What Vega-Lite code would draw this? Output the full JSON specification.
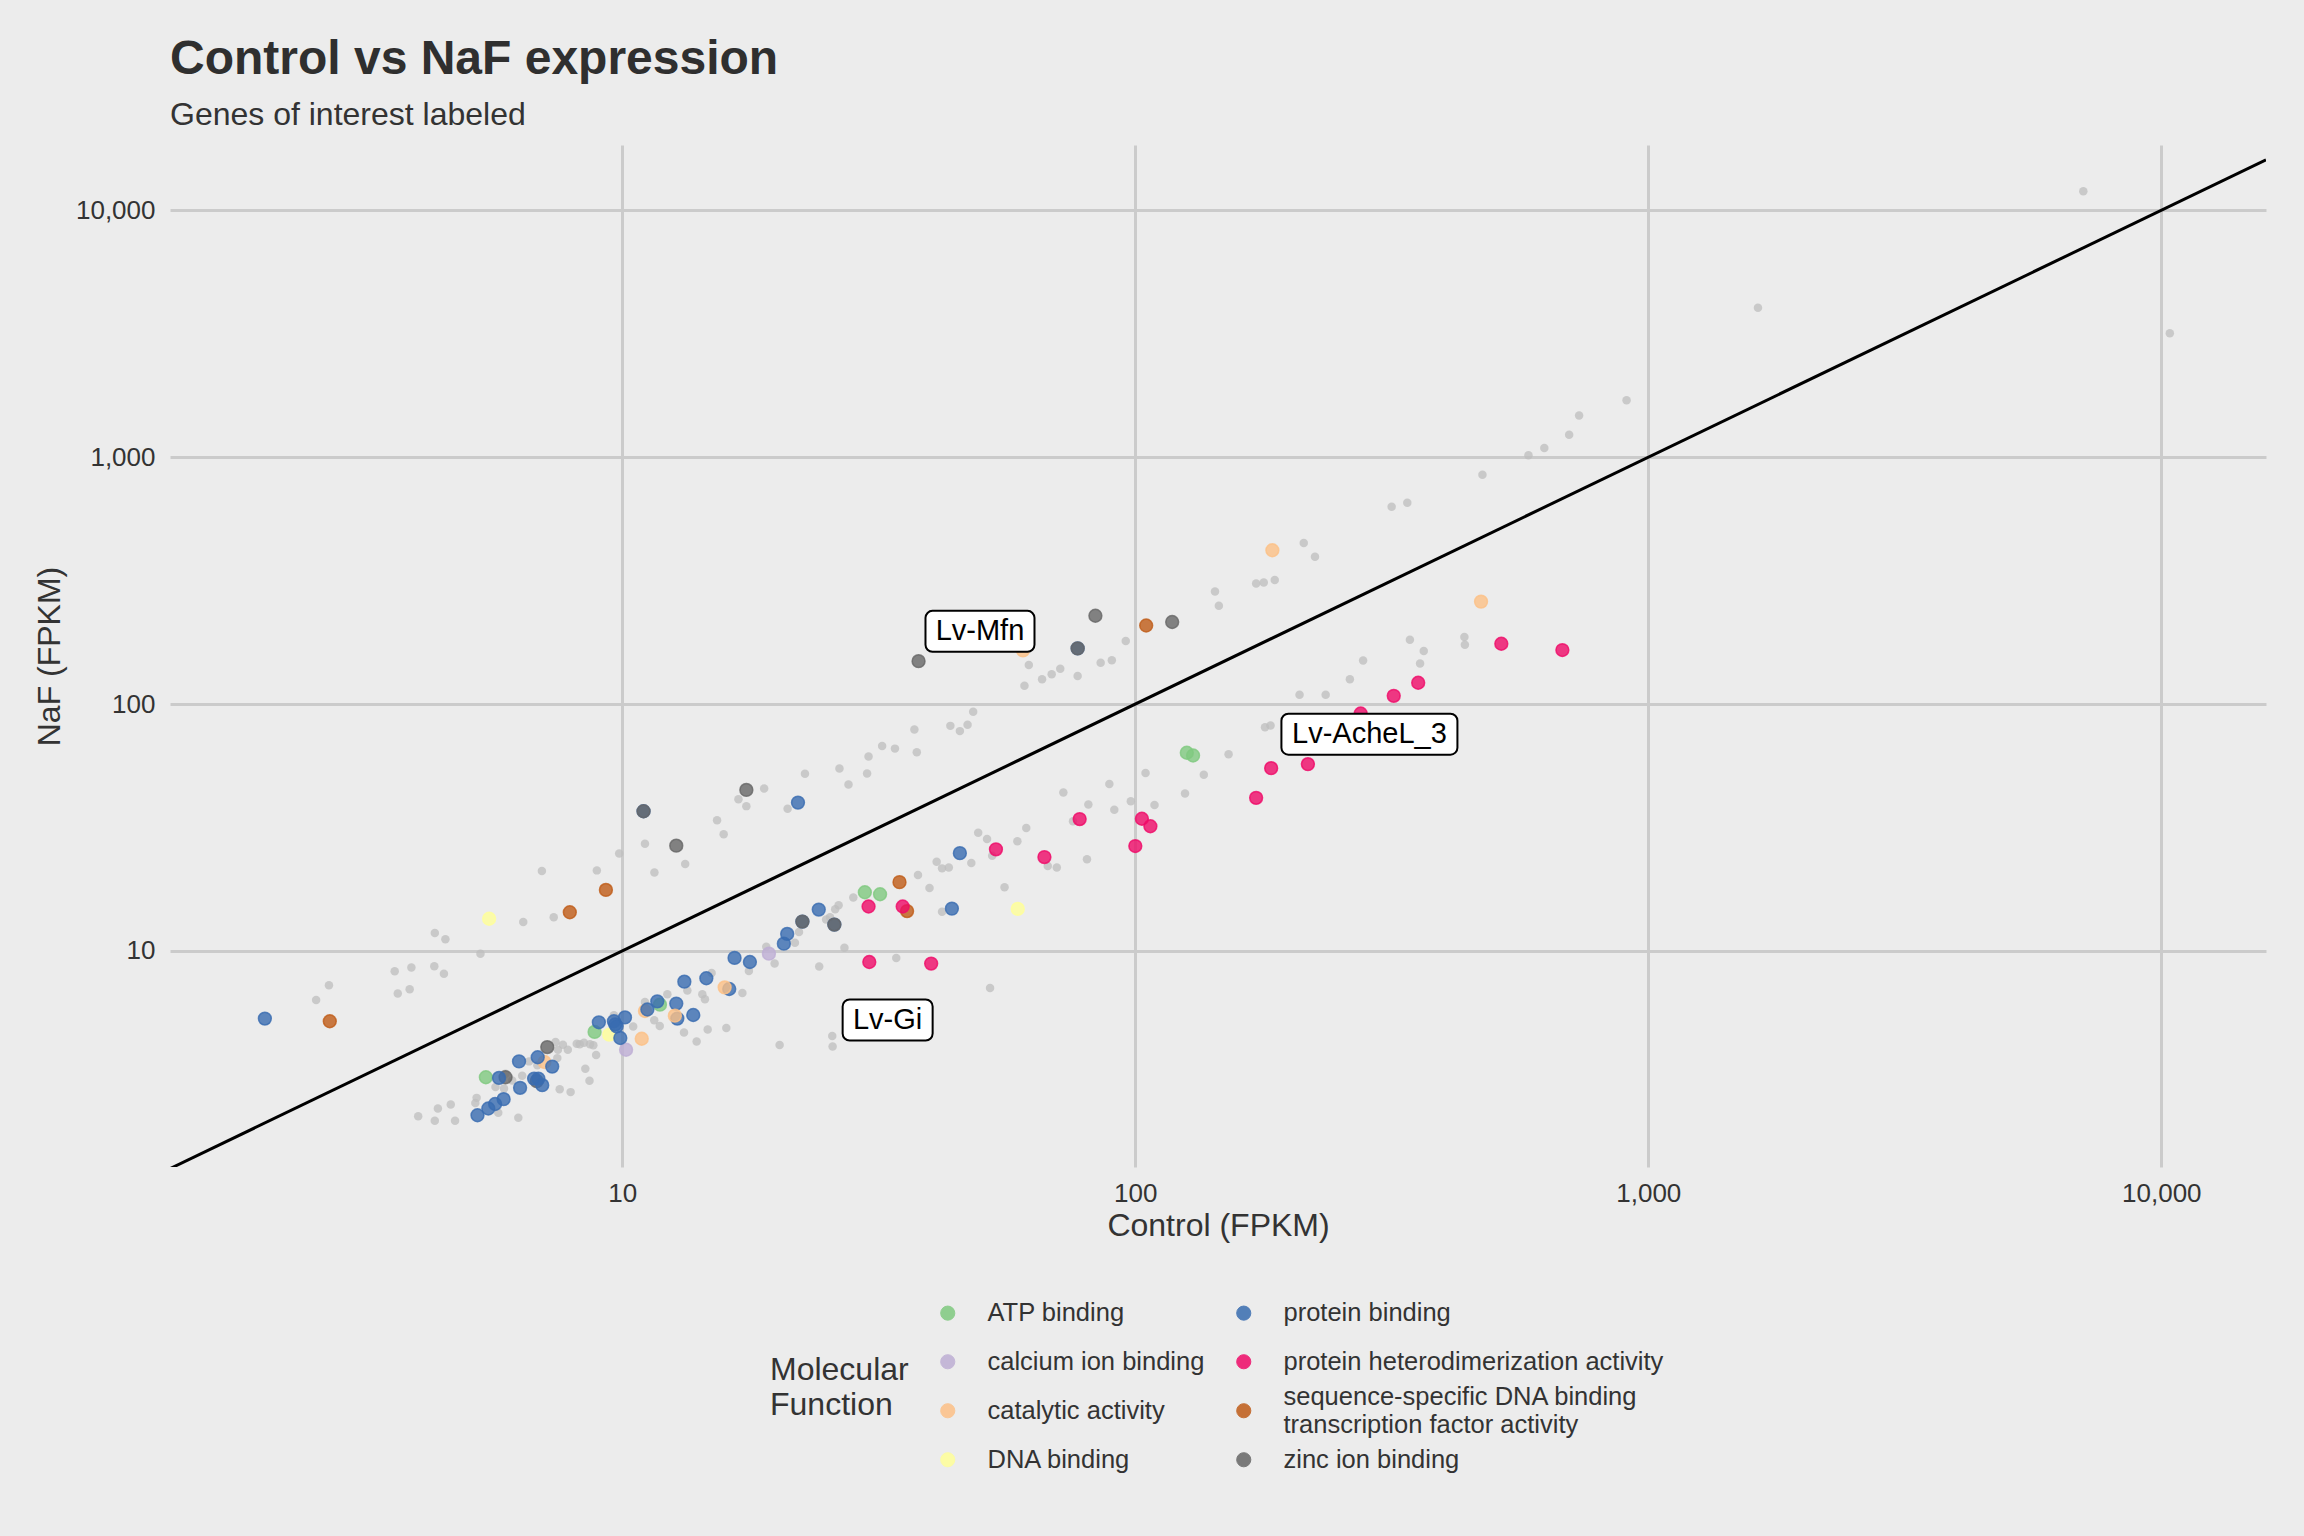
{
  "$schema": "https://vega.github.io/schema/vega-lite/v6.json",
  "width": 2096,
  "height": 1022,
  "autosize": "none",
  "padding": {"left": 170, "top": 145, "right": 38, "bottom": 369},
  "background": "#ECECEC",
  "title": {
    "text": "Control vs NaF expression",
    "subtitle": "Genes of interest labeled",
    "anchor": "start",
    "frame": "group",
    "offset": 14,
    "font": "Liberation Sans",
    "fontSize": 48,
    "fontWeight": "bold",
    "color": "#2F2F2F",
    "subtitleFont": "Liberation Sans",
    "subtitleFontSize": 32,
    "subtitleColor": "#333333",
    "subtitlePadding": 16
  },
  "config": {
    "view": {"stroke": null},
    "font": "Liberation Sans",
    "style": {
      "guide-label": {"lineHeight": 14, "dy": -14},
      "guide-title": {"dy": -6}
    },
    "axis": {
      "domain": false,
      "ticks": false,
      "grid": true,
      "gridColor": "#CBCBCB",
      "gridWidth": 3,
      "labelFont": "Liberation Sans",
      "labelFontSize": 26,
      "labelColor": "#333333",
      "titleFont": "Liberation Sans",
      "titleFontSize": 32,
      "titleFontWeight": "normal",
      "titleColor": "#333333"
    }
  },
  "datasets": {
    "genes": [
      {"Control": 4.52, "NaF": 11.15},
      {"Control": 5.29, "NaF": 9.75},
      {"Control": 4.49, "NaF": 8.09},
      {"Control": 4.37, "NaF": 2.3},
      {"Control": 4.63, "NaF": 2.39},
      {"Control": 4.72, "NaF": 2.05},
      {"Control": 5.17, "NaF": 2.42},
      {"Control": 5.2, "NaF": 2.54},
      {"Control": 5.73, "NaF": 2.21},
      {"Control": 6.27, "NaF": 2.11},
      {"Control": 5.66, "NaF": 2.81},
      {"Control": 5.88, "NaF": 2.77},
      {"Control": 6.38, "NaF": 3.12},
      {"Control": 6.1, "NaF": 2.99},
      {"Control": 5.92, "NaF": 3.18},
      {"Control": 6.58, "NaF": 3.57},
      {"Control": 6.83, "NaF": 3.44},
      {"Control": 7.47, "NaF": 3.68},
      {"Control": 7.49, "NaF": 3.98},
      {"Control": 7.41, "NaF": 4.28},
      {"Control": 7.66, "NaF": 4.17},
      {"Control": 7.83, "NaF": 3.98},
      {"Control": 8.15, "NaF": 4.21},
      {"Control": 8.26, "NaF": 4.19},
      {"Control": 8.42, "NaF": 4.25},
      {"Control": 8.65, "NaF": 4.19},
      {"Control": 8.78, "NaF": 4.15},
      {"Control": 8.89, "NaF": 3.79},
      {"Control": 8.47, "NaF": 3.33},
      {"Control": 8.63, "NaF": 2.98},
      {"Control": 7.55, "NaF": 2.75},
      {"Control": 7.93, "NaF": 2.68},
      {"Control": 9.63, "NaF": 5.49},
      {"Control": 10.5, "NaF": 4.94},
      {"Control": 11.07, "NaF": 6.21},
      {"Control": 11.54, "NaF": 5.24},
      {"Control": 11.83, "NaF": 4.97},
      {"Control": 12.24, "NaF": 6.68},
      {"Control": 13.39, "NaF": 6.91},
      {"Control": 14.32, "NaF": 6.68},
      {"Control": 14.49, "NaF": 6.37},
      {"Control": 13.19, "NaF": 4.67},
      {"Control": 13.96, "NaF": 4.3},
      {"Control": 14.67, "NaF": 4.81},
      {"Control": 15.95, "NaF": 4.87},
      {"Control": 14.93, "NaF": 8.15},
      {"Control": 17.14, "NaF": 6.76},
      {"Control": 17.65, "NaF": 8.29},
      {"Control": 19.81, "NaF": 8.89},
      {"Control": 19.08, "NaF": 10.4},
      {"Control": 21.7, "NaF": 10.8},
      {"Control": 22.1, "NaF": 11.94},
      {"Control": 24.2, "NaF": 8.64},
      {"Control": 20.26, "NaF": 4.16},
      {"Control": 25.66, "NaF": 4.52},
      {"Control": 25.7, "NaF": 4.1},
      {"Control": 39.7, "NaF": 18},
      {"Control": 55.6, "NaF": 18.1},
      {"Control": 28.2, "NaF": 16.45},
      {"Control": 26.4, "NaF": 15.3},
      {"Control": 26, "NaF": 14.75},
      {"Control": 25.4, "NaF": 13.7},
      {"Control": 24.96, "NaF": 13.4},
      {"Control": 27.1, "NaF": 10.3},
      {"Control": 34.2, "NaF": 9.37},
      {"Control": 42, "NaF": 14.4},
      {"Control": 52.1, "NaF": 7.08},
      {"Control": 316, "NaF": 630},
      {"Control": 339, "NaF": 654},
      {"Control": 213, "NaF": 449},
      {"Control": 224, "NaF": 395},
      {"Control": 172, "NaF": 308},
      {"Control": 178, "NaF": 311},
      {"Control": 187, "NaF": 318},
      {"Control": 143, "NaF": 286},
      {"Control": 145.5, "NaF": 250},
      {"Control": 95.8, "NaF": 180},
      {"Control": 90, "NaF": 150.6},
      {"Control": 85.6, "NaF": 147},
      {"Control": 71.4, "NaF": 139},
      {"Control": 68.7, "NaF": 132},
      {"Control": 65.8, "NaF": 126},
      {"Control": 62, "NaF": 144},
      {"Control": 60.8, "NaF": 118.6},
      {"Control": 77.2, "NaF": 130},
      {"Control": 343, "NaF": 182},
      {"Control": 365, "NaF": 164},
      {"Control": 278, "NaF": 150},
      {"Control": 359, "NaF": 146},
      {"Control": 262, "NaF": 126},
      {"Control": 438, "NaF": 187},
      {"Control": 439, "NaF": 174},
      {"Control": 209, "NaF": 109},
      {"Control": 235, "NaF": 109},
      {"Control": 179, "NaF": 80.6},
      {"Control": 183.5, "NaF": 81.9},
      {"Control": 152, "NaF": 62.6},
      {"Control": 136, "NaF": 51.7},
      {"Control": 104.7, "NaF": 52.6},
      {"Control": 125, "NaF": 43.4},
      {"Control": 89, "NaF": 47.4},
      {"Control": 109, "NaF": 39},
      {"Control": 98, "NaF": 40.4},
      {"Control": 91, "NaF": 37.3},
      {"Control": 72.4, "NaF": 43.8},
      {"Control": 81, "NaF": 39.2},
      {"Control": 75.6, "NaF": 33.5},
      {"Control": 61.3, "NaF": 31.5},
      {"Control": 58.9, "NaF": 27.8},
      {"Control": 49.4, "NaF": 30.1},
      {"Control": 51.4, "NaF": 28.4},
      {"Control": 52.6, "NaF": 24.3},
      {"Control": 67.5, "NaF": 22.1},
      {"Control": 70.3, "NaF": 21.8},
      {"Control": 80.5, "NaF": 23.5},
      {"Control": 41, "NaF": 23},
      {"Control": 42, "NaF": 21.6},
      {"Control": 43.3, "NaF": 21.8},
      {"Control": 47.9, "NaF": 22.7},
      {"Control": 37.7, "NaF": 20.3},
      {"Control": 48.3, "NaF": 93},
      {"Control": 43.6, "NaF": 81.6},
      {"Control": 47.1, "NaF": 82.4},
      {"Control": 45.5, "NaF": 77.7},
      {"Control": 37.1, "NaF": 78.9},
      {"Control": 37.5, "NaF": 63.8},
      {"Control": 32.1, "NaF": 67.7},
      {"Control": 34, "NaF": 66},
      {"Control": 30.2, "NaF": 61.3},
      {"Control": 30, "NaF": 52.3},
      {"Control": 26.5, "NaF": 54.8},
      {"Control": 27.6, "NaF": 47.2},
      {"Control": 22.7, "NaF": 52.2},
      {"Control": 18.9, "NaF": 45.5},
      {"Control": 21, "NaF": 37.7},
      {"Control": 2.68, "NaF": 7.26},
      {"Control": 2.53, "NaF": 6.33},
      {"Control": 3.6, "NaF": 8.27},
      {"Control": 3.88, "NaF": 8.56},
      {"Control": 3.65, "NaF": 6.72},
      {"Control": 3.85, "NaF": 6.99},
      {"Control": 4.3, "NaF": 8.67},
      {"Control": 4.31, "NaF": 11.83},
      {"Control": 4, "NaF": 2.14},
      {"Control": 4.31, "NaF": 2.05},
      {"Control": 6.41, "NaF": 13.1},
      {"Control": 7.35, "NaF": 13.7},
      {"Control": 6.97, "NaF": 21.1},
      {"Control": 8.92, "NaF": 21.2},
      {"Control": 9.86, "NaF": 24.8},
      {"Control": 11.07, "NaF": 27.2},
      {"Control": 11.55, "NaF": 20.8},
      {"Control": 13.26, "NaF": 22.5},
      {"Control": 15.3, "NaF": 33.8},
      {"Control": 15.76, "NaF": 29.7},
      {"Control": 16.84, "NaF": 41.2},
      {"Control": 17.45, "NaF": 38.6},
      {"Control": 7047, "NaF": 11950},
      {"Control": 1636, "NaF": 4027},
      {"Control": 10390, "NaF": 3178},
      {"Control": 907, "NaF": 1702},
      {"Control": 733, "NaF": 1476},
      {"Control": 701, "NaF": 1234},
      {"Control": 627, "NaF": 1089},
      {"Control": 584, "NaF": 1018},
      {"Control": 475, "NaF": 849},
      {"Control": 5.42, "NaF": 3.08, "Function": "ATP binding"},
      {"Control": 8.83, "NaF": 4.7, "Function": "ATP binding"},
      {"Control": 11.84, "NaF": 6.06, "Function": "ATP binding"},
      {"Control": 29.7, "NaF": 17.29, "Function": "ATP binding"},
      {"Control": 31.8, "NaF": 16.97, "Function": "ATP binding"},
      {"Control": 129.6, "NaF": 61.9, "Function": "ATP binding"},
      {"Control": 126, "NaF": 63.5, "Function": "ATP binding"},
      {"Control": 10.17, "NaF": 3.98, "Function": "calcium ion binding"},
      {"Control": 19.31, "NaF": 9.75, "Function": "calcium ion binding"},
      {"Control": 7.05, "NaF": 3.55, "Function": "catalytic activity"},
      {"Control": 10.91, "NaF": 4.41, "Function": "catalytic activity"},
      {"Control": 11.07, "NaF": 5.71, "Function": "catalytic activity"},
      {"Control": 60.4, "NaF": 165, "Function": "catalytic activity"},
      {"Control": 185, "NaF": 420, "Function": "catalytic activity"},
      {"Control": 472, "NaF": 260, "Function": "catalytic activity"},
      {"Control": 5.5, "NaF": 13.5, "Function": "DNA binding"},
      {"Control": 9.43, "NaF": 4.58, "Function": "DNA binding"},
      {"Control": 59, "NaF": 14.8, "Function": "DNA binding"},
      {"Control": 2.69, "NaF": 5.19, "Function": "sequence-specific DNA binding transcription factor activity"},
      {"Control": 7.9, "NaF": 14.35, "Function": "sequence-specific DNA binding transcription factor activity"},
      {"Control": 9.29, "NaF": 17.67, "Function": "sequence-specific DNA binding transcription factor activity"},
      {"Control": 34.7, "NaF": 19, "Function": "sequence-specific DNA binding transcription factor activity"},
      {"Control": 35.9, "NaF": 14.5, "Function": "sequence-specific DNA binding transcription factor activity"},
      {"Control": 105, "NaF": 208, "Function": "sequence-specific DNA binding transcription factor activity"},
      {"Control": 7.14, "NaF": 4.08, "Function": "zinc ion binding"},
      {"Control": 5.92, "NaF": 3.08, "Function": "zinc ion binding"},
      {"Control": 6.81, "NaF": 2.97, "Function": "zinc ion binding"},
      {"Control": 12.74, "NaF": 26.7, "Function": "zinc ion binding"},
      {"Control": 17.45, "NaF": 44.9, "Function": "zinc ion binding"},
      {"Control": 37.8, "NaF": 149.2, "Function": "zinc ion binding"},
      {"Control": 83.6, "NaF": 228, "Function": "zinc ion binding"},
      {"Control": 118, "NaF": 215, "Function": "zinc ion binding"},
      {"Control": 2.01, "NaF": 5.32, "Function": "protein binding"},
      {"Control": 5.22, "NaF": 2.16, "Function": "protein binding"},
      {"Control": 5.48, "NaF": 2.3, "Function": "protein binding"},
      {"Control": 5.65, "NaF": 2.4, "Function": "protein binding"},
      {"Control": 5.87, "NaF": 2.51, "Function": "protein binding"},
      {"Control": 6.32, "NaF": 2.79, "Function": "protein binding"},
      {"Control": 5.75, "NaF": 3.06, "Function": "protein binding"},
      {"Control": 6.73, "NaF": 3.04, "Function": "protein binding"},
      {"Control": 6.86, "NaF": 3.04, "Function": "protein binding"},
      {"Control": 6.98, "NaF": 2.86, "Function": "protein binding"},
      {"Control": 6.29, "NaF": 3.57, "Function": "protein binding"},
      {"Control": 6.84, "NaF": 3.71, "Function": "protein binding"},
      {"Control": 7.3, "NaF": 3.4, "Function": "protein binding"},
      {"Control": 9, "NaF": 5.14, "Function": "protein binding"},
      {"Control": 9.63, "NaF": 5.19, "Function": "protein binding"},
      {"Control": 9.75, "NaF": 4.95, "Function": "protein binding"},
      {"Control": 9.69, "NaF": 5.04, "Function": "protein binding"},
      {"Control": 10.12, "NaF": 5.38, "Function": "protein binding"},
      {"Control": 9.91, "NaF": 4.44, "Function": "protein binding"},
      {"Control": 11.19, "NaF": 5.79, "Function": "protein binding"},
      {"Control": 11.7, "NaF": 6.25, "Function": "protein binding"},
      {"Control": 12.74, "NaF": 6.12, "Function": "protein binding"},
      {"Control": 12.8, "NaF": 5.32, "Function": "protein binding"},
      {"Control": 13.75, "NaF": 5.5, "Function": "protein binding"},
      {"Control": 13.21, "NaF": 7.51, "Function": "protein binding"},
      {"Control": 14.58, "NaF": 7.75, "Function": "protein binding"},
      {"Control": 16.16, "NaF": 7.01, "Function": "protein binding"},
      {"Control": 16.55, "NaF": 9.37, "Function": "protein binding"},
      {"Control": 17.73, "NaF": 9.02, "Function": "protein binding"},
      {"Control": 20.65, "NaF": 10.7, "Function": "protein binding"},
      {"Control": 20.96, "NaF": 11.72, "Function": "protein binding"},
      {"Control": 11, "NaF": 36.8, "Function": "protein binding"},
      {"Control": 22, "NaF": 39.9, "Function": "protein binding"},
      {"Control": 22.44, "NaF": 13.15, "Function": "protein binding"},
      {"Control": 24.15, "NaF": 14.71, "Function": "protein binding"},
      {"Control": 25.9, "NaF": 12.79, "Function": "protein binding"},
      {"Control": 43.9, "NaF": 14.84, "Function": "protein binding"},
      {"Control": 45.5, "NaF": 24.9, "Function": "protein binding"},
      {"Control": 77.2, "NaF": 168, "Function": "protein binding"},
      {"Control": 11, "NaF": 36.8, "Function": "zinc ion binding"},
      {"Control": 22.44, "NaF": 13.15, "Function": "zinc ion binding"},
      {"Control": 25.9, "NaF": 12.79, "Function": "zinc ion binding"},
      {"Control": 77.2, "NaF": 168, "Function": "zinc ion binding"},
      {"Control": 12.66, "NaF": 5.47, "Function": "catalytic activity"},
      {"Control": 15.83, "NaF": 7.12, "Function": "catalytic activity"},
      {"Control": 30.3, "NaF": 9.02, "Function": "protein heterodimerization activity"},
      {"Control": 30.2, "NaF": 15.13, "Function": "protein heterodimerization activity"},
      {"Control": 35.2, "NaF": 15.13, "Function": "protein heterodimerization activity"},
      {"Control": 40, "NaF": 8.89, "Function": "protein heterodimerization activity"},
      {"Control": 53.5, "NaF": 25.8, "Function": "protein heterodimerization activity"},
      {"Control": 66.5, "NaF": 24, "Function": "protein heterodimerization activity"},
      {"Control": 77.9, "NaF": 34.2, "Function": "protein heterodimerization activity"},
      {"Control": 100, "NaF": 26.6, "Function": "protein heterodimerization activity"},
      {"Control": 103, "NaF": 34.3, "Function": "protein heterodimerization activity"},
      {"Control": 107, "NaF": 32, "Function": "protein heterodimerization activity"},
      {"Control": 172, "NaF": 41.7, "Function": "protein heterodimerization activity"},
      {"Control": 184, "NaF": 55, "Function": "protein heterodimerization activity"},
      {"Control": 217, "NaF": 57.1, "Function": "protein heterodimerization activity"},
      {"Control": 275, "NaF": 91.6, "Function": "protein heterodimerization activity"},
      {"Control": 319, "NaF": 108, "Function": "protein heterodimerization activity"},
      {"Control": 356, "NaF": 122, "Function": "protein heterodimerization activity"},
      {"Control": 517, "NaF": 175.5, "Function": "protein heterodimerization activity"},
      {"Control": 680, "NaF": 165.5, "Function": "protein heterodimerization activity"}
    ],
    "identity": [
      {"Control": 1.313, "NaF": 1.313},
      {"Control": 16000, "NaF": 16000}
    ],
    "labels": [
      {"Control": 49.8, "NaF": 197, "Gene": "Lv-Mfn"},
      {"Control": 286, "NaF": 75.5, "Gene": "Lv-AcheL_3"},
      {"Control": 32.9, "NaF": 5.25, "Gene": "Lv-Gi"}
    ]
  },
  "data": {"name": "genes"},
  "encoding": {
    "x": {
      "field": "Control",
      "type": "quantitative",
      "title": "Control (FPKM)",
      "scale": {"type": "log", "domain": [1.313, 16000], "nice": false},
      "axis": {"values": [10, 100, 1000, 10000], "format": ",", "labelPadding": 27, "titlePadding": 10}
    },
    "y": {
      "field": "NaF",
      "type": "quantitative",
      "title": "NaF (FPKM)",
      "scale": {"type": "log", "domain": [1.333, 18390], "nice": false},
      "axis": {"values": [10, 100, 1000, 10000], "format": ",", "labelPadding": 15, "labelOffset": 14, "titlePadding": 3}
    }
  },
  "layer": [
    {
      "transform": [{"filter": "!isValid(datum.Function)"}],
      "mark": {"type": "point", "filled": true, "size": 72, "color": "#BEBEBE", "opacity": 0.75, "clip": true}
    },
    {
      "data": {"name": "identity"},
      "mark": {"type": "line", "color": "black", "strokeWidth": 3, "clip": true}
    },
    {
      "transform": [{"filter": "isValid(datum.Function)"}],
      "mark": {"type": "point", "filled": true, "size": 165, "strokeWidth": 1.5, "fillOpacity": 0.8, "strokeOpacity": 0.8},
      "encoding": {
        "fill": {
          "field": "Function",
          "type": "nominal",
          "scale": {
            "domain": ["ATP binding", "calcium ion binding", "catalytic activity", "DNA binding", "protein binding", "protein heterodimerization activity", "sequence-specific DNA binding transcription factor activity", "zinc ion binding"],
            "range": ["#7FC97F", "#BEAED4", "#FDC086", "#FFFF99", "#386CB0", "#EF0A68", "#BF5B17", "#666666"]
          },
          "legend": {
            "title": ["Molecular", "Function"],
            "orient": "none",
            "legendX": 600,
            "legendY": 1155,
            "columns": 2,
            "direction": "vertical",
            "titleOrient": "left",
            "titleFont": "Liberation Sans",
            "titleFontSize": 32,
            "titleFontWeight": "normal",
            "titleColor": "#333333",
            "titleLineHeight": 35,
            "titlePadding": 26,
            "titleBaseline": "middle",
            "labelFont": "Liberation Sans",
            "labelFontSize": 25.5,
            "labelColor": "#333333",
            "labelLimit": 700,
            "labelOffset": 27,
            "symbolSize": 200,
            "symbolOpacity": 0.85,
            "symbolType": "circle",
            "symbolStrokeWidth": 1,
            "rowPadding": -6,
            "columnPadding": 26,
            "labelExpr": "datum.label === 'sequence-specific DNA binding transcription factor activity' ? ['sequence-specific DNA binding', '\u200b', 'transcription factor activity'] : ['\u200b', datum.label, '\u200b']"
          }
        },
        "stroke": {
          "field": "Function",
          "type": "nominal",
          "scale": {
            "domain": ["ATP binding", "calcium ion binding", "catalytic activity", "DNA binding", "protein binding", "protein heterodimerization activity", "sequence-specific DNA binding transcription factor activity", "zinc ion binding"],
            "range": ["#7FC97F", "#BEAED4", "#FDC086", "#FFFF99", "#386CB0", "#EF0A68", "#BF5B17", "#666666"]
          },
          "legend": null
        }
      }
    },
    {
      "data": {"name": "labels"},
      "mark": {
        "type": "rect",
        "fill": "white",
        "stroke": "black",
        "strokeWidth": 2,
        "cornerRadius": 7,
        "height": 41,
        "width": {"expr": "datum.Gene === 'Lv-Mfn' ? 109 : datum.Gene === 'Lv-Gi' ? 90 : 176"}
      }
    },
    {
      "data": {"name": "labels"},
      "mark": {"type": "text", "font": "Liberation Sans", "fontSize": 29, "color": "black", "align": "center", "baseline": "middle"},
      "encoding": {"text": {"field": "Gene", "type": "nominal"}}
    }
  ]
}
